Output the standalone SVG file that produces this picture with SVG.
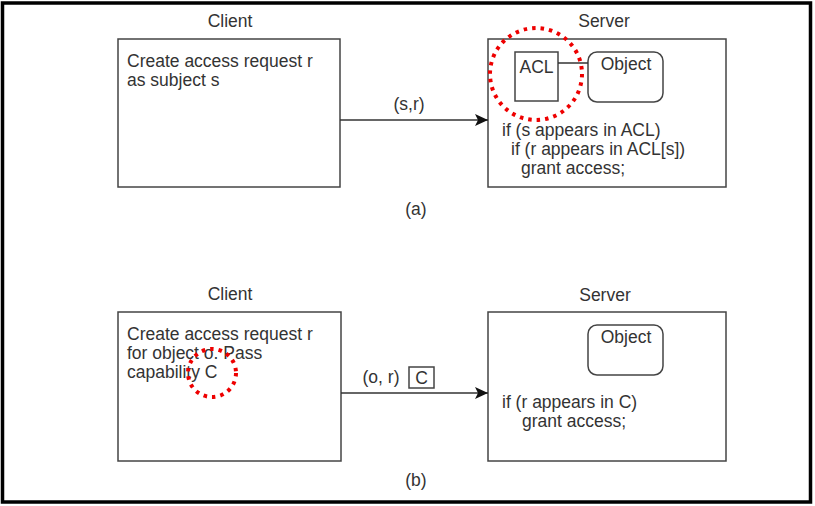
<svg xmlns="http://www.w3.org/2000/svg" width="815" height="506" viewBox="0 0 815 506">
<defs>
<style>
text{font-family:"Liberation Sans",Arial,sans-serif;font-size:17.5px;fill:#333}
.c{text-anchor:middle}
.box{fill:#fff;stroke:#444;stroke-width:1.5}
.ln{stroke:#333;stroke-width:1.5;fill:none}
.red{fill:none;stroke:#e00;stroke-width:4;stroke-dasharray:3.5 5}
</style>
<marker id="ah" markerWidth="14" markerHeight="12" refX="13" refY="6" orient="auto" markerUnits="userSpaceOnUse">
<path d="M0,0 L13,6 L0,12 L3,6 Z" fill="#111"/>
</marker>
</defs>
<rect x="0" y="0" width="815" height="506" fill="#fff"/>
<rect id="frame" x="2.5" y="3" width="808" height="499" fill="none" stroke="#000" stroke-width="3.5"/>

<g id="part-a">
<text class="c" x="230" y="27">Client</text>
<text class="c" x="604" y="27">Server</text>
<g id="client-a">
<rect class="box" x="118" y="39" width="222" height="148"/>
<text x="127" y="66.5">Create access request r</text>
<text x="127" y="86">as subject s</text>
</g>
<g id="server-a">
<rect class="box" x="488" y="39" width="238" height="148"/>
<text x="502" y="136">if (s appears in ACL)</text>
<text x="511" y="155">if (r appears in ACL[s])</text>
<text x="521" y="174">grant access;</text>
</g>
<g id="acl">
<rect class="box" x="515" y="52" width="43" height="49"/>
<text class="c" x="536.5" y="73">ACL</text>
</g>
<g id="object-a">
<rect class="box" x="588" y="52" width="75" height="50" rx="9"/>
<text class="c" x="626" y="70">Object</text>
</g>
<text class="c" x="416" y="215">(a)</text>
</g>

<g id="part-b">
<text class="c" x="230" y="300">Client</text>
<text class="c" x="605" y="301">Server</text>
<g id="client-b">
<rect class="box" x="118" y="312" width="223" height="149"/>
<text x="127" y="340">Create access request r</text>
<text x="127" y="359">for object o. Pass</text>
<text x="127" y="378">capability C</text>
</g>
<g id="server-b">
<rect class="box" x="488" y="312" width="238" height="149"/>
<text x="502" y="408">if (r appears in C)</text>
<text x="522" y="427">grant access;</text>
</g>
<g id="object-b">
<rect class="box" x="588" y="325" width="75" height="50" rx="9"/>
<text class="c" x="626" y="343">Object</text>
</g>
<g id="cap-c">
<rect class="box" x="409" y="367" width="25" height="21"/>
<text class="c" x="421.5" y="384">C</text>
</g>
<text class="c" x="416" y="486">(b)</text>
</g>

<g id="connectors">
<line class="ln" x1="558" y1="63" x2="588" y2="63"/>
<line class="ln" x1="340" y1="120" x2="488" y2="120" marker-end="url(#ah)"/>
<text class="c" x="409" y="110">(s,r)</text>
<line class="ln" x1="341" y1="393" x2="488" y2="393" marker-end="url(#ah)"/>
<text class="c" x="381" y="383">(o, r)</text>
</g>

<g id="highlights">
<circle class="red" cx="536" cy="74" r="46"/>
<circle class="red" cx="212" cy="373" r="24"/>
</g>
</svg>
